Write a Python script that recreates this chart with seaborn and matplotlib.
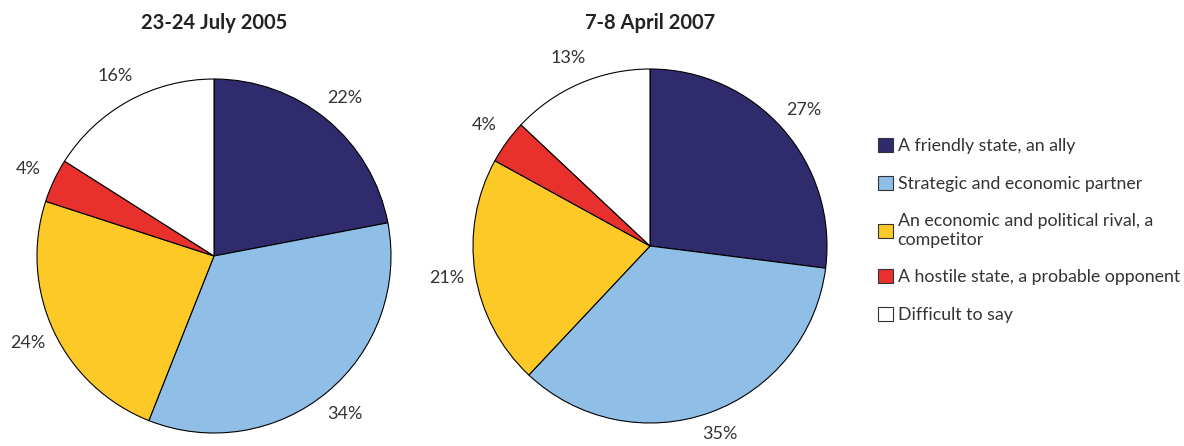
import matplotlib
matplotlib.use("Agg")
import matplotlib.pyplot as plt
import seaborn as sns
from matplotlib.patches import Patch

# Data
categories = [
    "A friendly state, an ally",
    "Strategic and economic partner",
    "An economic and political rival, a\ncompetitor",
    "A hostile state, a probable opponent",
    "Difficult to say",
]
values_2005 = [22, 34, 24, 4, 16]
values_2007 = [27, 35, 21, 4, 13]
titles = ["23-24 July 2005", "7-8 April 2007"]

colors = sns.color_palette(["#302b6c", "#8fbee6", "#fcc926", "#e8302c", "#ffffff"])

sns.set_style("white")
plt.rcParams["font.family"] = ["Lato", "DejaVu Sans"]

fig = plt.figure(figsize=(11.84, 4.46), dpi=100)
W, H = 1184, 446
R = 177

# pie centers in pixels (from top-left)
centers = [(214, 256), (650, 246)]
series = [values_2005, values_2007]

for (cx, cy), vals, title in zip(centers, series, titles):
    ax = fig.add_axes([(cx - R) / W, (H - cy - R) / H, 2 * R / W, 2 * R / H])
    ax.pie(vals, colors=colors, startangle=90, counterclock=False,
           labels=[f"{v}%" for v in vals], labeldistance=1.16,
           wedgeprops=dict(edgecolor="black", linewidth=0.8),
           textprops=dict(fontsize=13, color="#333333",
                          ha="center", va="center"))
    for t in ax.texts:
        t.set_horizontalalignment("center")
    ax.set_xlim(-1.0, 1.0)
    ax.set_ylim(-1.0, 1.0)
    ax.set_aspect("equal")
    ax.axis("off")
    fig.text((cx) / W, 1 - 23 / H, title, ha="center", va="center",
             fontsize=14.5, fontweight="bold", color="#222222")

# keep the bottom label of the second pie inside the figure
fig.axes[1].texts[1].set_verticalalignment("baseline")

handles = [Patch(facecolor=c, edgecolor="#333333", linewidth=0.8) for c in colors]
fig.legend(handles, categories, loc="upper left",
           bbox_to_anchor=(862 / W, 1 - 122 / H), frameon=False,
           fontsize=12.8, handlelength=0.85, handleheight=0.85,
           handletextpad=0.25, labelspacing=1.2, labelcolor="#333333")

fig.savefig("out.png", dpi=100)
